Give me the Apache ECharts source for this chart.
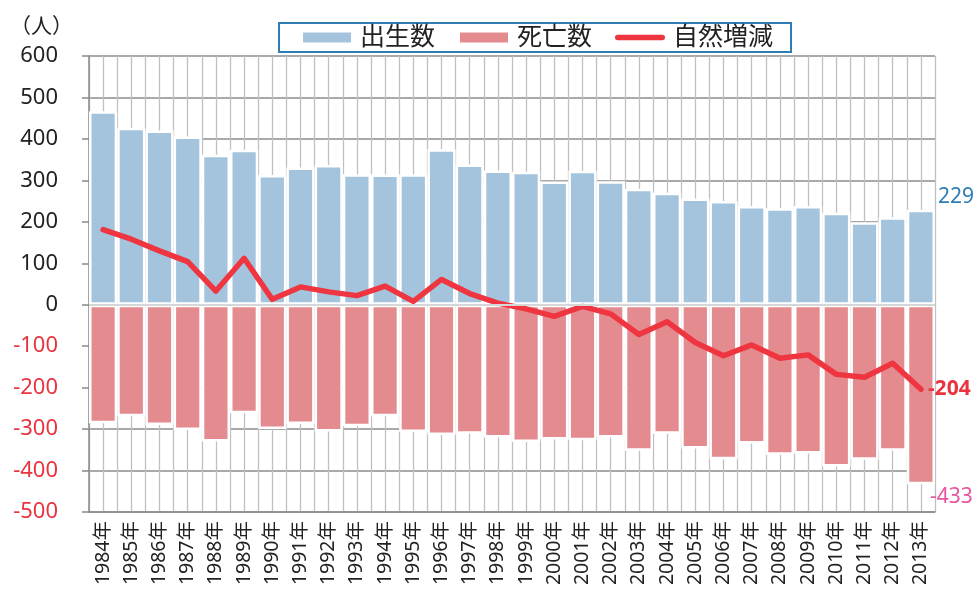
<!DOCTYPE html>
<html>
<head>
<meta charset="utf-8">
<script src="https://cdn.jsdelivr.net/npm/echarts@6/dist/echarts.min.js"></script>
<style>
  html, body { margin: 0; padding: 0; background: #fff; }
  #chart { width: 979px; height: 589px; }
</style>
</head>
<body>
<div id="chart"></div>
<script>
const years = ['1984年', '1985年', '1986年', '1987年', '1988年', '1989年', '1990年', '1991年', '1992年', '1993年',
  '1994年', '1995年', '1996年', '1997年', '1998年', '1999年', '2000年', '2001年', '2002年', '2003年',
  '2004年', '2005年', '2006年', '2007年', '2008年', '2009年', '2010年', '2011年', '2012年', '2013年']
const births = [467, 427, 420, 406, 362, 374, 313, 331, 337, 315,
  314, 315, 375, 338, 324, 321, 297, 323, 298, 280,
  270, 256, 250, 238, 233, 238, 222, 199, 211, 229]
const deaths = [-286, -269, -290, -302, -330, -262, -300, -288, -306, -293,
  -269, -307, -314, -311, -320, -331, -325, -327, -320, -352,
  -311, -347, -373, -335, -362, -359, -390, -374, -352, -433]
const natural = [181, 158, 130, 104, 33, 112, 13, 43, 31, 22,
  45, 8, 61, 27, 4, -10, -28, -4, -22, -72,
  -41, -91, -123, -97, -129, -121, -168, -175, -141, -204]
const yTicks = { min: -500, max: 600, step: 100 }

const font = "'Noto Sans', 'Noto Sans CJK JP', sans-serif"
const last = years.length - 1
// thick rounded stroke for the legend entry of the line
const lineIcon = 'path://M3,0 L53,0 A3,3 0 0 1 53,6 L3,6 A3,3 0 0 1 3,0 Z'

const chart = echarts.init(document.getElementById('chart'))
chart.setOption({
  animation: false,
  textStyle: { fontFamily: font },
  title: {
    text: '（人）',
    left: 5,
    top: 12,
    textStyle: { fontSize: 21, fontWeight: 'normal', color: '#222', fontFamily: font }
  },
  legend: {
    left: 279,
    top: 23,
    padding: [2, 18, 2, 22],
    borderColor: '#2e7db5',
    borderWidth: 2,
    itemWidth: 50,
    itemHeight: 12,
    itemGap: 23,
    selectedMode: false,
    symbolKeepAspect: true,
    textStyle: { fontSize: 25, color: '#222', fontFamily: font, padding: [0, 0, 0, 3] },
    data: [
      { name: '出生数', icon: 'rect' },
      { name: '死亡数', icon: 'rect' },
      { name: '自然増減', icon: lineIcon }
    ]
  },
  grid: { left: 89, right: 44, top: 56, bottom: 77 },
  xAxis: [{
    type: 'category',
    data: years,
    axisLine: { onZero: false, lineStyle: { color: '#8a8a8a', width: 1.5 } },
    axisTick: { show: false },
    axisLabel: { rotate: 90, fontSize: 19.5, color: '#222', margin: 9, fontFamily: font },
    splitLine: { show: false }
  }, {
    type: 'value',
    min: 0,
    max: years.length * 2,
    interval: 1,
    position: 'top',
    axisLine: { show: false },
    axisTick: { show: false },
    axisLabel: { show: false },
    splitLine: { show: true, lineStyle: { color: '#c0c0c4', width: 1.3 } }
  }],
  yAxis: {
    type: 'value',
    min: yTicks.min,
    max: yTicks.max,
    interval: yTicks.step,
    axisLine: { show: true, lineStyle: { color: '#8a8a8a', width: 1.5 } },
    axisTick: { show: true, length: 7, lineStyle: { color: '#8a8a8a', width: 1.5 } },
    axisLabel: {
      fontSize: 22,
      margin: 31,
      fontFamily: font,
      color: function (v) { return v < 0 ? '#e8343f' : '#222' }
    },
    splitLine: { lineStyle: { color: '#8c8c8c', width: 1.5 } }
  },
  series: [{
    name: '出生数',
    type: 'bar',
    data: births,
    barGap: '-100%',
    barCategoryGap: '0%',
    itemStyle: { color: '#a3c4dc', borderColor: '#fff', borderWidth: 2.5 },
    label: {
      show: true,
      position: ['100%', -13],
      offset: [3, 0],
      align: 'left',
      verticalAlign: 'middle',
      fontSize: 21,
      color: '#2e7db5',
      fontFamily: font,
      formatter: function (p) { return p.dataIndex === last ? String(p.value) : '' }
    }
  }, {
    name: '死亡数',
    type: 'bar',
    data: deaths,
    barGap: '-100%',
    barCategoryGap: '0%',
    itemStyle: { color: '#e48b8f', borderColor: '#fff', borderWidth: 2.5 },
    label: {
      show: true,
      position: ['100%', '100%'],
      offset: [-5, 13],
      align: 'left',
      verticalAlign: 'middle',
      fontSize: 21,
      color: '#e8559f',
      fontFamily: font,
      formatter: function (p) { return p.dataIndex === last ? String(p.value) : '' }
    },
    markLine: {
      silent: true,
      symbol: 'none',
      label: { show: false },
      lineStyle: { color: '#d6d6d6', width: 2, type: 'solid' },
      data: [{ yAxis: 0 }]
    }
  }, {
    name: '自然増減',
    type: 'line',
    data: natural,
    symbol: 'none',
    lineStyle: { color: '#ee3540', width: 5.5, join: 'round', cap: 'round' },
    itemStyle: { color: '#ee3540' },
    endLabel: {
      show: true,
      formatter: '{c}',
      fontSize: 21,
      fontWeight: 'bold',
      color: '#e8343f',
      distance: 7,
      fontFamily: font
    }
  }]
})
</script>
</body>
</html>
